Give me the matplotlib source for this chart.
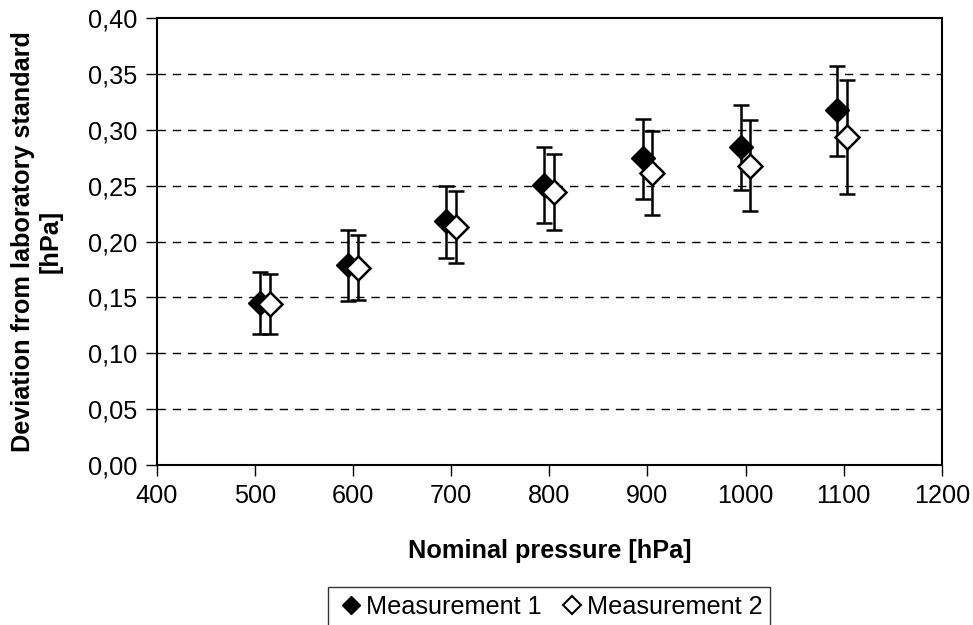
import matplotlib
matplotlib.use("Agg")
from matplotlib import pyplot as plt
from matplotlib.lines import Line2D
from matplotlib.ticker import FuncFormatter

plt.rcParams['font.family'] = ['Liberation Sans', 'DejaVu Sans']

# x positions (nominal pressure, slightly offset per series) and deviations [hPa]
x_m1 = [505, 595, 695, 795, 895, 995, 1093]
y_m1 = [0.145, 0.179, 0.218, 0.251, 0.275, 0.285, 0.318]
lo_m1 = [0.117, 0.147, 0.185, 0.217, 0.238, 0.246, 0.277]
hi_m1 = [0.173, 0.210, 0.250, 0.285, 0.310, 0.322, 0.357]

x_m2 = [515, 605, 705, 805, 905, 1005, 1103]
y_m2 = [0.144, 0.176, 0.213, 0.244, 0.261, 0.268, 0.294]
lo_m2 = [0.117, 0.148, 0.181, 0.210, 0.224, 0.227, 0.243]
hi_m2 = [0.171, 0.206, 0.245, 0.278, 0.299, 0.309, 0.345]

fs = 18.2

fig = plt.figure(figsize=(9.73, 6.25), dpi=100)
ax = fig.add_axes([0.161, 0.256, 0.807, 0.715])

def err(y, lo, hi):
    return [[a - b for a, b in zip(y, lo)], [c - a for a, c in zip(y, hi)]]

ax.errorbar(x_m1, y_m1, yerr=err(y_m1, lo_m1, hi_m1), fmt='D', color='black',
            markerfacecolor='black', markeredgecolor='black', markersize=12,
            ecolor='black', elinewidth=1.8, capsize=6, capthick=1.8, zorder=3)
ax.errorbar(x_m2, y_m2, yerr=err(y_m2, lo_m2, hi_m2), fmt='D', color='black',
            markerfacecolor='white', markeredgecolor='black', markeredgewidth=1.8,
            markersize=12, ecolor='black', elinewidth=1.8, capsize=6, capthick=1.8,
            zorder=4)

ax.set_xlim(400, 1200)
ax.set_ylim(0, 0.4)
ax.set_xticks(range(400, 1201, 100))
ax.set_yticks([i * 0.05 for i in range(9)])
ax.yaxis.set_major_formatter(FuncFormatter(lambda v, p: f"{v:.2f}".replace('.', ',')))

for i in range(1, 8):
    ax.axhline(i * 0.05, color='black', lw=1, dashes=(6, 5), zorder=1)

for s in ax.spines.values():
    s.set_linewidth(1.5)
    s.set_color('black')

ax.tick_params(direction='out', length=8, width=1, labelsize=fs, pad=6)
ax.set_xlabel('Nominal pressure [hPa]', fontsize=fs, fontweight='bold', labelpad=22)
ax.set_ylabel('Deviation from laboratory standard\n[hPa]', fontsize=fs,
              fontweight='bold', labelpad=18)

handles = [
    Line2D([], [], ls='none', marker='D', markersize=9, markerfacecolor='black',
           markeredgecolor='black'),
    Line2D([], [], ls='none', marker='D', markersize=9, markerfacecolor='white',
           markeredgecolor='black', markeredgewidth=1.5),
]
leg = ax.legend(handles, ['Measurement 1', 'Measurement 2'], loc='upper center',
                bbox_to_anchor=(0.5, -0.274), ncol=2, fontsize=fs, frameon=True,
                fancybox=False, edgecolor='black', handletextpad=0.0,
                columnspacing=0.6, handlelength=1.2, borderpad=0.3,
                borderaxespad=0)
leg.get_frame().set_linewidth(1.0)

fig.savefig('out.png', dpi=100)
